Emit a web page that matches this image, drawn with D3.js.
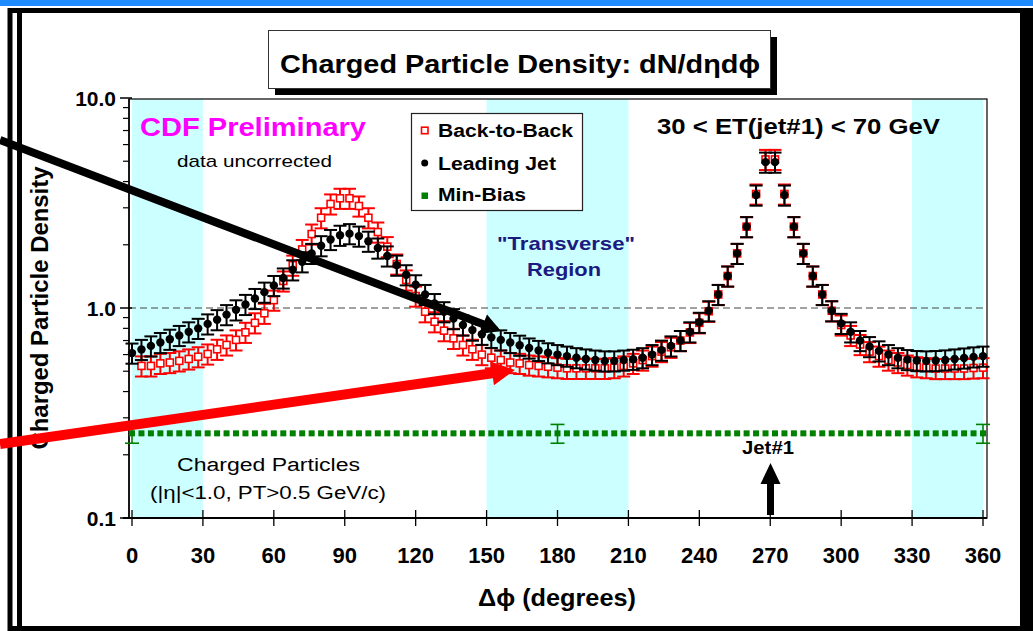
<!DOCTYPE html>
<html>
<head>
<meta charset="utf-8">
<script src="https://cdn.jsdelivr.net/npm/d3@7"></script>
<style>
  html, body { margin: 0; padding: 0; background: #fff; }
  svg { display: block; }
  text { font-family: "Liberation Sans", Arial, Helvetica, sans-serif; }
</style>
</head>
<body>
<svg id="chart" width="1033" height="631"></svg>
<script>
// Δφ bin centres (degrees)
const dphi = [0,4,8,12,16,20,24,28,32,36,40,44,48,52,56,60,64,68,72,76,80,84,88,92,96,100,
  104,108,112,116,120,124,128,132,136,140,144,148,152,156,160,164,168,172,176,180,184,188,
  192,196,200,204,208,212,216,220,224,228,232,236,240,244,248,252,256,260,264,268,272,276,
  280,284,288,292,296,300,304,308,312,316,320,324,328,332,336,340,344,348,352,356,360];

// Back-to-Back events (no entry in the first bin)
const backToBack = [null,0.53,0.53,0.545,0.55,0.56,0.572,0.586,0.604,0.636,0.667,0.705,0.766,0.85,
  0.944,1.09,1.345,1.6,1.9,2.25,2.69,3.13,3.33,3.33,3.06,2.69,2.3,1.96,1.62,1.36,1.14,0.96,0.86,
  0.78,0.717,0.667,0.636,0.60,0.58,0.565,0.55,0.545,0.535,0.53,0.525,0.52,0.516,0.516,0.516,
  0.516,0.516,0.52,0.53,0.545,0.565,0.59,0.62,0.65,0.70,0.765,0.85,0.965,1.16,1.42,1.82,2.44,
  3.49,5.1,5.1,3.49,2.44,1.82,1.42,1.16,0.97,0.83,0.74,0.67,0.62,0.59,0.565,0.55,0.535,0.525,
  0.52,0.515,0.515,0.515,0.515,0.518,0.52];

// Leading Jet events
const leadingJet = [0.61,0.635,0.66,0.685,0.71,0.74,0.77,0.80,0.84,0.88,0.93,0.98,1.04,1.11,1.19,
  1.28,1.39,1.52,1.66,1.82,1.98,2.12,2.22,2.26,2.2,2.08,1.93,1.77,1.6,1.44,1.29,1.16,1.05,0.96,
  0.89,0.83,0.785,0.75,0.725,0.705,0.685,0.665,0.645,0.628,0.612,0.60,0.59,0.58,0.572,0.565,
  0.56,0.56,0.565,0.57,0.58,0.60,0.63,0.66,0.70,0.77,0.855,0.97,1.16,1.42,1.82,2.44,3.45,4.95,
  4.95,3.45,2.44,1.82,1.42,1.16,0.97,0.845,0.77,0.70,0.655,0.625,0.60,0.58,0.568,0.562,0.56,
  0.562,0.566,0.572,0.578,0.585,0.59];

// Min-Bias events
const minBias = [0.253,0.253,0.253,0.253,0.253,0.253,0.253,0.253,0.253,0.253,0.253,0.253,0.253,
  0.253,0.253,0.253,0.253,0.253,0.253,0.253,0.253,0.253,0.253,0.253,0.253,0.253,0.253,0.253,
  0.253,0.253,0.253,0.253,0.253,0.253,0.253,0.253,0.253,0.253,0.253,0.253,0.253,0.253,0.253,
  0.253,0.253,0.253,0.253,0.253,0.253,0.253,0.253,0.253,0.253,0.253,0.253,0.253,0.253,0.253,
  0.253,0.253,0.253,0.253,0.253,0.253,0.253,0.253,0.253,0.253,0.253,0.253,0.253,0.253,0.253,
  0.253,0.253,0.253,0.253,0.253,0.253,0.253,0.253,0.253,0.253,0.253,0.253,0.253,0.253,0.253,
  0.253,0.253,0.253];
// Min-Bias errors are only drawn at a few bins
const minBiasErrBins = [0, 180, 360];
const minBiasErr = 0.026;
// relative statistical error on the jet samples
const jetErrFrac = 0.11;

const xTicks = [0,30,60,90,120,150,180,210,240,270,300,330,360];
const yTicks = [0.1, 1, 10];
const yTickLabels = ["0.1", "1.0", "10.0"];
// shaded Δφ regions
const shadedRegions = [[0,30],[150,210],[330,360]];

const svg = d3.select("#chart");
const x = d3.scaleLinear().domain([0,360]).range([132,983]);
const y = d3.scaleLog().domain([0.1,10]).range([518,98]);
const PL = 129, PR = 987, PT = 99, PB = 518;

// page frame
svg.append("rect").attr("x",0).attr("y",0).attr("width",1033).attr("height",631).attr("fill","#fff");
svg.append("rect").attr("x",0).attr("y",0).attr("width",1033).attr("height",6).attr("fill","#1e8cff");
svg.append("rect").attr("x",10).attr("y",10.5).attr("width",1013).attr("height",618)
  .attr("fill","none").attr("stroke","#000").attr("stroke-width",5);
svg.append("line").attr("x1",19.5).attr("x2",19.5).attr("y1",10).attr("y2",628)
  .attr("stroke","#000").attr("stroke-width",5);
svg.append("rect").attr("x",1020).attr("y",8).attr("width",13).attr("height",623).attr("fill","#000");

// shaded regions
svg.append("g").selectAll("rect").data(shadedRegions).join("rect")
  .attr("x", d => x(d[0])).attr("width", d => x(d[1]) - x(d[0]))
  .attr("y", PT).attr("height", PB - PT).attr("fill", "#ccffff");

// plot area border
svg.append("rect").attr("x",PL).attr("y",PT).attr("width",PR-PL).attr("height",PB-PT)
  .attr("fill","none").attr("stroke","#000").attr("stroke-width",1.2);

// reference line at density 1
svg.append("line").attr("x1",PL).attr("x2",PR).attr("y1",y(1)).attr("y2",y(1))
  .attr("stroke","#444").attr("stroke-width",1).attr("stroke-dasharray","7,4");

// y axis (log)
const yAxisG = svg.append("g");
yAxisG.append("line").attr("x1",PL).attr("x2",PL).attr("y1",PT).attr("y2",PB)
  .attr("stroke","#000").attr("stroke-width",1.5);
const minorVals = [];
[0.1,1].forEach(dec => { for (let m = 2; m <= 9; m++) minorVals.push(dec*m); });
yAxisG.selectAll("line.minor").data(minorVals).join("line").attr("class","minor")
  .attr("x1",PL-6).attr("x2",PL).attr("y1",d=>y(d)).attr("y2",d=>y(d))
  .attr("stroke","#000").attr("stroke-width",1.2);
yAxisG.selectAll("line.major").data(yTicks).join("line").attr("class","major")
  .attr("x1",PL-9).attr("x2",PL+3).attr("y1",d=>y(d)).attr("y2",d=>y(d))
  .attr("stroke","#000").attr("stroke-width",1.5);
yAxisG.selectAll("text").data(yTicks).join("text")
  .attr("x",116).attr("y",d=>y(d)+8).attr("text-anchor","end")
  .attr("font-size",21).attr("font-weight","bold").text((d,i)=>yTickLabels[i]);

// x axis
const xAxisG = svg.append("g");
xAxisG.append("line").attr("x1",PL-6).attr("x2",PR).attr("y1",PB).attr("y2",PB)
  .attr("stroke","#000").attr("stroke-width",2);
xAxisG.selectAll("line.tick").data(xTicks).join("line").attr("class","tick")
  .attr("x1",d=>x(d)).attr("x2",d=>x(d)).attr("y1",PB-8).attr("y2",PB+8)
  .attr("stroke","#000").attr("stroke-width",1.3);
xAxisG.selectAll("text").data(xTicks).join("text")
  .attr("x",d=>x(d)).attr("y",563).attr("text-anchor","middle")
  .attr("font-size",22).attr("font-weight","bold").text(d=>d);

// axis titles
svg.append("text").attr("transform","translate(48,308) rotate(-90)")
  .attr("text-anchor","middle").attr("font-size",23).attr("font-weight","bold")
  .attr("textLength",283).attr("lengthAdjust","spacingAndGlyphs")
  .text("Charged Particle Density");
svg.append("text").attr("x",478).attr("y",606).attr("font-size",24).attr("font-weight","bold")
  .attr("textLength",158).attr("lengthAdjust","spacingAndGlyphs")
  .text("\u0394\u03d5  (degrees)");

// error bar helper
function errorBars(g, pts, color, capW, sw) {
  const sel = g.selectAll("g.eb").data(pts).join("g").attr("class","eb");
  sel.append("line").attr("x1",d=>x(d.x)).attr("x2",d=>x(d.x))
    .attr("y1",d=>y(d.lo)).attr("y2",d=>y(d.hi)).attr("stroke",color).attr("stroke-width",sw);
  sel.append("line").attr("x1",d=>x(d.x)-capW/2).attr("x2",d=>x(d.x)+capW/2)
    .attr("y1",d=>y(d.lo)).attr("y2",d=>y(d.lo)).attr("stroke",color).attr("stroke-width",sw);
  sel.append("line").attr("x1",d=>x(d.x)-capW/2).attr("x2",d=>x(d.x)+capW/2)
    .attr("y1",d=>y(d.hi)).attr("y2",d=>y(d.hi)).attr("stroke",color).attr("stroke-width",sw);
}

const ljPts = dphi.map((a,i)=>({x:a, v:leadingJet[i], lo:leadingJet[i]*(1-jetErrFrac), hi:leadingJet[i]*(1+jetErrFrac)}));
const bbPts = dphi.map((a,i)=>({x:a, v:backToBack[i]})).filter(d=>d.v!=null)
  .map(d=>({...d, lo:d.v*(1-jetErrFrac), hi:d.v*(1+jetErrFrac)}));
const mbPts = dphi.map((a,i)=>({x:a, v:minBias[i]}));
const mbErrPts = mbPts.filter(d=>minBiasErrBins.includes(d.x))
  .map(d=>({...d, lo:d.v-minBiasErr, hi:d.v+minBiasErr}));

// Back-to-Back
const gBB = svg.append("g");
errorBars(gBB, bbPts, "#ff0000", 13, 2);
gBB.selectAll("rect").data(bbPts).join("rect")
  .attr("x",d=>x(d.x)-3.5).attr("y",d=>y(d.v)-3.5).attr("width",7).attr("height",7)
  .attr("fill","#fff").attr("stroke","#ff0000").attr("stroke-width",1.6);

// Leading Jet
const gLJ = svg.append("g");
errorBars(gLJ, ljPts, "#000", 13, 2);
gLJ.selectAll("circle").data(ljPts).join("circle")
  .attr("cx",d=>x(d.x)).attr("cy",d=>y(d.v)).attr("r",4.2).attr("fill","#000");

// Min-Bias
const gMB = svg.append("g");
errorBars(gMB, mbErrPts, "#008000", 14, 1.6);
gMB.selectAll("rect").data(mbPts).join("rect")
  .attr("x",d=>x(d.x)-3).attr("y",d=>y(d.v)-3).attr("width",6).attr("height",6)
  .attr("fill","#008000");

// title box
svg.append("rect").attr("x",275).attr("y",37).attr("width",502).attr("height",58).attr("fill","#000");
svg.append("rect").attr("x",268.5).attr("y",30.5).attr("width",502).attr("height",58)
  .attr("fill","#fff").attr("stroke","#333").attr("stroke-width",1);
svg.append("text").attr("x",280).attr("y",73).attr("font-size",26).attr("font-weight","bold")
  .attr("textLength",480).attr("lengthAdjust","spacingAndGlyphs")
  .text("Charged Particle Density: dN/d\u03b7d\u03d5");

// legend
const legend = [
  {label:"Back-to-Back", kind:"bb", yb:136.7, w:135},
  {label:"Leading Jet", kind:"lj", yb:169.5, w:118},
  {label:"Min-Bias", kind:"mb", yb:201, w:88}
];
svg.append("rect").attr("x",411.5).attr("y",113.5).attr("width",171).attr("height",97)
  .attr("fill","#fff").attr("stroke","#222").attr("stroke-width",1.2);
const lg = svg.append("g").selectAll("g").data(legend).join("g");
lg.append("text").attr("x",438).attr("y",d=>d.yb).attr("font-size",18).attr("font-weight","bold")
  .attr("textLength",d=>d.w).attr("lengthAdjust","spacingAndGlyphs").text(d=>d.label);
lg.filter(d=>d.kind==="bb").append("rect").attr("x",421.5).attr("y",d=>d.yb-9.5).attr("width",6.5).attr("height",6.5)
  .attr("fill","#fff").attr("stroke","#ff0000").attr("stroke-width",1.6);
lg.filter(d=>d.kind==="lj").append("circle").attr("cx",424.7).attr("cy",d=>d.yb-6.5).attr("r",3.5).attr("fill","#000");
lg.filter(d=>d.kind==="mb").append("rect").attr("x",421.5).attr("y",d=>d.yb-8.5).attr("width",6.5).attr("height",6.5)
  .attr("fill","#008000");

// annotations
function label(txt, xPos, yPos, size, opts={}) {
  const t = svg.append("text").attr("x",xPos).attr("y",yPos).attr("font-size",size)
    .attr("font-weight",opts.bold?"bold":"normal").attr("fill",opts.fill||"#000")
    .attr("text-anchor",opts.anchor||"start").text(txt);
  if (opts.w) t.attr("textLength",opts.w).attr("lengthAdjust","spacingAndGlyphs");
  return t;
}
label("CDF Preliminary", 140, 136, 26, {bold:true, fill:"#ff00ff", w:226});
label("data uncorrected", 177, 167, 17, {w:155});
label("30 < ET(jet#1) < 70 GeV", 657, 134, 22, {bold:true, w:283});
label("\"Transverse\"", 566, 250, 19, {bold:true, fill:"#1a1a80", anchor:"middle", w:138});
label("Region", 564, 276, 19, {bold:true, fill:"#1a1a80", anchor:"middle", w:74});
label("Charged Particles", 177, 471, 18, {w:183});
label("(|\u03b7|<1.0, PT>0.5 GeV/c)", 150, 499, 18, {w:236});
label("Jet#1", 742, 454, 19, {bold:true, w:52});

// arrow helper: shaft from (x0,y0) to tip (x1,y1)
function arrow(x0,y0,x1,y1,shaftW,headL,headHW,color) {
  const dx = x1-x0, dy = y1-y0, L = Math.hypot(dx,dy);
  const ux = dx/L, uy = dy/L, nx = -uy, ny = ux;
  const bx = x1-ux*headL, by = y1-uy*headL, s = shaftW/2;
  const pts = [
    [x0+nx*s, y0+ny*s], [bx+nx*s, by+ny*s], [bx+nx*headHW, by+ny*headHW], [x1,y1],
    [bx-nx*headHW, by-ny*headHW], [bx-nx*s, by-ny*s], [x0-nx*s, y0-ny*s]
  ];
  svg.append("path").attr("d", d3.line()(pts) + "Z").attr("fill", color);
}
arrow(770.5, 515, 770.5, 463, 7, 21, 10, "#000");
arrow(0, 140, 501, 331, 8, 19, 10.5, "#000");
arrow(0, 444, 515, 370, 10, 23, 12, "#ff0000");
</script>
</body>
</html>
